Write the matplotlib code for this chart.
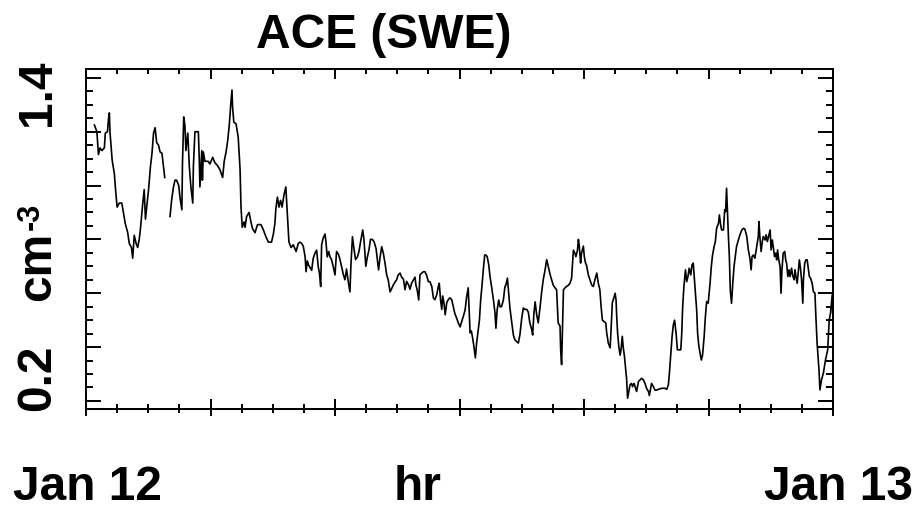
import matplotlib
matplotlib.use("Agg")
import matplotlib.pyplot as plt
from matplotlib.ticker import MultipleLocator, NullFormatter

plt.rcParams["font.family"] = ["Liberation Sans", "DejaVu Sans"]
plt.rcParams["font.weight"] = "bold"

# hours after 00 UT Jan 12, proton density (cm^-3); nan marks a data gap
hours = [
    0.27, 0.35, 0.40, 0.45, 0.51, 0.59, 0.62, 0.69, 0.72, 0.75, 0.77, 0.84, 0.91, 0.96, 1.00,
    1.07, 1.15, 1.20, 1.26, 1.34, 1.39, 1.46, 1.50, 1.55, 1.61, 1.66, 1.71, 1.75, 1.82, 1.87,
    1.91, 1.96, 2.01, 2.07, 2.12, 2.17, 2.22, 2.27, 2.33, 2.38, 2.44, 2.49, 2.53,
    2.61,
    2.70, 2.75, 2.81, 2.86, 2.91, 2.98, 3.02, 3.08, 3.10, 3.14, 3.18, 3.21, 3.27, 3.32, 3.37,
    3.43, 3.45, 3.50, 3.61, 3.64, 3.66, 3.72, 3.74, 3.77, 3.82, 3.93, 3.98, 4.07, 4.14, 4.22,
    4.30, 4.39, 4.44, 4.50, 4.55, 4.60, 4.65, 4.69, 4.71, 4.75, 4.82, 4.89, 4.95, 4.98, 5.02,
    5.08, 5.11, 5.16, 5.24, 5.29, 5.35, 5.43, 5.51, 5.62, 5.70, 5.78, 5.86, 5.96, 6.02, 6.07,
    6.10, 6.15, 6.20, 6.25, 6.30, 6.36, 6.42, 6.47, 6.52, 6.59, 6.66, 6.75, 6.82, 6.87,
    6.93, 6.98, 7.04, 7.07, 7.11, 7.15, 7.20, 7.25, 7.30, 7.36, 7.41, 7.46, 7.50, 7.54, 7.57,
    7.62, 7.68, 7.71, 7.75, 7.80, 7.84, 7.89, 7.95, 8.00, 8.05, 8.11, 8.16, 8.21, 8.27, 8.32,
    8.37, 8.43, 8.48, 8.51, 8.56, 8.61, 8.66, 8.72, 8.77, 8.82, 8.89, 8.93, 8.99, 9.04, 9.09,
    9.14, 9.20, 9.26, 9.32, 9.36, 9.40, 9.45, 9.50, 9.55, 9.61, 9.66, 9.71, 9.77, 9.82, 9.87,
    9.93, 9.98, 10.03, 10.09,
    10.14, 10.20, 10.25, 10.30, 10.36, 10.41, 10.46, 10.52, 10.57, 10.60, 10.64, 10.69, 10.73,
    10.78, 10.84, 10.89, 10.94, 11.00, 11.05, 11.11, 11.16, 11.21, 11.27, 11.32, 11.35, 11.39,
    11.43, 11.46, 11.50, 11.54, 11.59, 11.64, 11.69, 11.75, 11.80, 11.85, 11.91, 11.96, 12.02,
    12.07, 12.12, 12.18, 12.23, 12.28, 12.31, 12.34, 12.38, 12.42, 12.46, 12.51, 12.55, 12.59,
    12.64, 12.68, 12.72, 12.77, 12.81, 12.85, 12.89, 12.94, 12.98, 13.03, 13.09, 13.14, 13.17,
    13.21, 13.26, 13.30,
    13.35, 13.41, 13.46, 13.49, 13.54, 13.58, 13.62, 13.68, 13.73, 13.78, 13.84, 13.89, 13.94,
    14.00, 14.05, 14.10, 14.16, 14.21, 14.26, 14.32, 14.35, 14.39, 14.43, 14.48, 14.53, 14.59,
    14.64, 14.69, 14.75, 14.80, 14.85, 14.91, 14.96, 15.01, 15.07, 15.12, 15.17, 15.23, 15.25,
    15.28, 15.31, 15.34, 15.39, 15.44, 15.50, 15.55, 15.60, 15.63, 15.66, 15.71, 15.74, 15.79,
    15.82, 15.85, 15.89, 15.92, 15.98, 16.01, 16.05, 16.08, 16.14, 16.19, 16.25, 16.30, 16.35,
    16.41, 16.46, 16.51,
    16.55, 16.59, 16.64, 16.70, 16.73, 16.78, 16.84, 16.87, 16.91, 16.96, 17.00, 17.03, 17.05,
    17.08, 17.12, 17.16, 17.19, 17.23, 17.26, 17.30, 17.34, 17.37, 17.40, 17.45, 17.48, 17.53,
    17.56, 17.61, 17.66, 17.69, 17.75, 17.80, 17.85, 17.91, 17.96, 18.01, 18.07, 18.10, 18.14,
    18.17, 18.23, 18.28, 18.33, 18.39, 18.50, 18.60, 18.66, 18.71, 18.74, 18.78, 18.83, 18.87,
    18.91, 18.96, 19.00, 19.05, 19.11, 19.14, 19.17, 19.21, 19.26, 19.30, 19.34, 19.38, 19.43,
    19.47, 19.51, 19.54, 19.58, 19.62, 19.65, 19.69, 19.73,
    19.77, 19.81, 19.86, 19.90, 19.94, 19.99, 20.05, 20.09, 20.13, 20.18, 20.22, 20.26, 20.32,
    20.35, 20.39, 20.42, 20.48, 20.52, 20.55, 20.58, 20.61, 20.64, 20.67, 20.70, 20.74, 20.78,
    20.82, 20.86, 20.90, 20.96, 21.01, 21.07, 21.12, 21.17, 21.23, 21.28, 21.33, 21.37, 21.40,
    21.44, 21.49, 21.55, 21.60, 21.62, 21.65, 21.69, 21.73, 21.76, 21.82, 21.85, 21.89, 21.93,
    21.98, 22.01, 22.05, 22.08, 22.12, 22.16, 22.19, 22.22, 22.25, 22.30, 22.33, 22.36, 22.40,
    22.45, 22.48, 22.51, 22.55, 22.59, 22.62, 22.67, 22.70, 22.75, 22.78, 22.81, 22.85, 22.89,
    22.92, 22.96, 22.99, 23.03, 23.05, 23.09, 23.13, 23.17, 23.21, 23.24, 23.28, 23.33, 23.37,
    23.42, 23.45, 23.49, 23.55, 23.58, 23.63, 23.69, 23.76, 23.83, 23.85, 23.88, 23.92, 23.96,
    23.98, 23.99,
]
density = [
    1.225, 1.200, 1.115, 1.140, 1.130, 1.140, 1.195, 1.200, 1.245, 1.270, 1.200, 1.095, 1.045, 0.970, 0.920,
    0.935, 0.935, 0.900, 0.860, 0.825, 0.785, 0.770, 0.730, 0.815, 0.785, 0.770, 0.800, 0.840, 0.930, 0.985,
    0.875, 0.930, 0.985, 1.070, 1.120, 1.195, 1.215, 1.160, 1.150, 1.125, 1.120, 1.070, 1.030,
    float("nan"),
    0.885, 0.945, 0.995, 1.020, 1.020, 1.000, 0.955, 0.910, 1.085, 1.255, 1.220, 1.130, 1.195, 1.070, 0.995,
    0.935, 1.070, 1.200, 1.200, 1.095, 0.995, 1.130, 1.020, 1.125, 1.090, 1.090, 1.080, 1.105, 1.085, 1.075,
    1.060, 1.030, 1.090, 1.125, 1.165, 1.220, 1.300, 1.355, 1.290, 1.235, 1.230, 1.180, 1.060, 0.920, 0.845,
    0.865, 0.845, 0.885, 0.900, 0.870, 0.840, 0.825, 0.855, 0.855, 0.835, 0.810, 0.790, 0.790, 0.820, 0.860,
    0.915, 0.957, 0.920, 0.945, 0.920, 0.965, 0.995, 0.895, 0.790, 0.770, 0.780, 0.755, 0.785, 0.790,
    0.785, 0.775, 0.735, 0.680, 0.720, 0.705, 0.695, 0.685, 0.730, 0.750, 0.760, 0.700, 0.675, 0.625, 0.780,
    0.805, 0.820, 0.790, 0.735, 0.755, 0.735, 0.725, 0.695, 0.668, 0.755, 0.745, 0.725, 0.700, 0.668, 0.650,
    0.690, 0.640, 0.605, 0.700, 0.810, 0.765, 0.725, 0.735, 0.755, 0.790, 0.835, 0.800, 0.700, 0.735, 0.760,
    0.800, 0.800, 0.790, 0.765, 0.725, 0.687, 0.735, 0.773, 0.750, 0.710, 0.668, 0.650, 0.605, 0.617, 0.630,
    0.642, 0.650, 0.668, 0.675,
    0.660, 0.652, 0.613, 0.644, 0.632, 0.615, 0.637, 0.650, 0.660, 0.630, 0.613, 0.575, 0.668,
    0.674, 0.680, 0.680, 0.668, 0.643, 0.643, 0.625, 0.583, 0.576, 0.595, 0.625, 0.637, 0.576,
    0.540, 0.590, 0.565, 0.520, 0.565, 0.576, 0.583, 0.576, 0.550, 0.525, 0.507, 0.490, 0.475,
    0.495, 0.513, 0.538, 0.587, 0.620, 0.538, 0.453, 0.460, 0.435, 0.405, 0.360, 0.415, 0.453,
    0.500, 0.575, 0.625, 0.694, 0.742, 0.742, 0.736, 0.705, 0.662, 0.625, 0.575, 0.527, 0.470,
    0.538, 0.575, 0.550,
    0.550, 0.575, 0.625, 0.630, 0.656, 0.600, 0.545, 0.490, 0.445, 0.427, 0.420, 0.415, 0.445,
    0.508, 0.545, 0.540, 0.540, 0.530, 0.490, 0.465, 0.445, 0.525, 0.568, 0.520, 0.490, 0.550,
    0.605, 0.650, 0.687, 0.725, 0.700, 0.670, 0.650, 0.630, 0.620, 0.613, 0.490, 0.478, 0.390,
    0.335, 0.478, 0.613, 0.620, 0.625, 0.630, 0.637, 0.655, 0.705, 0.760, 0.748, 0.736, 0.760,
    0.800, 0.775, 0.712, 0.748, 0.775, 0.736, 0.712, 0.705, 0.668, 0.650, 0.630, 0.625, 0.650,
    0.675, 0.637, 0.613,
    0.550, 0.500, 0.495, 0.490, 0.452, 0.415, 0.397, 0.465, 0.565, 0.583, 0.600, 0.575, 0.515,
    0.452, 0.400, 0.370, 0.390, 0.440, 0.400, 0.365, 0.315, 0.280, 0.210, 0.240, 0.260, 0.265,
    0.253, 0.265, 0.247, 0.235, 0.272, 0.278, 0.284, 0.278, 0.265, 0.247, 0.235, 0.220, 0.247,
    0.265, 0.253, 0.240, 0.240, 0.243, 0.247, 0.247, 0.243, 0.260, 0.297, 0.363, 0.440, 0.482,
    0.500, 0.450, 0.390, 0.390, 0.390, 0.450, 0.550, 0.625, 0.687, 0.643, 0.662, 0.693, 0.668,
    0.705, 0.712, 0.662, 0.600, 0.538, 0.452, 0.403, 0.378,
    0.352, 0.371, 0.439, 0.513, 0.569, 0.563, 0.637, 0.699, 0.742, 0.773, 0.792, 0.841, 0.860,
    0.891, 0.854, 0.835, 0.835, 0.910, 0.903, 0.990, 0.897, 0.811, 0.736, 0.612, 0.563, 0.637,
    0.699, 0.736, 0.773, 0.798, 0.817, 0.835, 0.841, 0.838, 0.811, 0.761, 0.730, 0.687, 0.736,
    0.742, 0.730, 0.773, 0.811, 0.866, 0.811, 0.755, 0.792, 0.811, 0.798, 0.817, 0.792, 0.811,
    0.835, 0.761, 0.798, 0.773, 0.736, 0.749, 0.724, 0.761, 0.730, 0.699, 0.600, 0.687, 0.749,
    0.755, 0.724, 0.711, 0.662, 0.687, 0.662, 0.693, 0.668, 0.650, 0.687, 0.662, 0.637, 0.687,
    0.724, 0.687, 0.650, 0.563, 0.650, 0.711, 0.724, 0.724, 0.687, 0.662, 0.656, 0.637, 0.606,
    0.600, 0.513, 0.414, 0.315, 0.241, 0.278, 0.303, 0.353, 0.390, 0.439, 0.501, 0.526, 0.575,
    0.600, 0.526,
]

title = "ACE (SWE)"
y_tick_values = [1.4, 0.2]
y_tick_text = ["1.4", "0.2"]
y_unit = "cm"
y_unit_exp = "-3"
x_labels = ["Jan 12", "hr", "Jan 13"]

W, H = 923, 512
fig = plt.figure(figsize=(W / 100, H / 100), dpi=100)
ax = fig.add_axes([86 / W, 1 - 409 / H, 747 / W, 340 / H])

ax.plot(hours, density, color="black", lw=1.2)
ax.set_xlim(0, 24)
ax.set_ylim(0.170, 1.433)

ax.xaxis.set_major_locator(MultipleLocator(4))
ax.xaxis.set_minor_locator(MultipleLocator(1))
ax.yaxis.set_major_locator(MultipleLocator(0.2))
ax.yaxis.set_minor_locator(MultipleLocator(0.05))
ax.tick_params(labelleft=False, labelbottom=False)
ax.tick_params(axis="x", which="both", direction="in", top=True, bottom=True, width=1.4)
ax.tick_params(axis="x", which="major", length=7.2)
ax.tick_params(axis="x", which="minor", length=3.6)
ax.tick_params(axis="y", which="both", direction="in", left=True, right=True, width=1.4)
ax.tick_params(axis="y", which="major", length=10.8)
ax.tick_params(axis="y", which="minor", length=5.0)
for s in ax.spines.values():
    s.set_linewidth(1.4)

# outward part of the bottom ticks
sec = ax.secondary_xaxis("bottom")
sec.xaxis.set_major_locator(MultipleLocator(4))
sec.xaxis.set_minor_locator(MultipleLocator(1))
sec.xaxis.set_major_formatter(NullFormatter())
sec.tick_params(axis="x", which="both", direction="out", width=1.4)
sec.tick_params(axis="x", which="major", length=5.0)
sec.tick_params(axis="x", which="minor", length=2.9)
sec.spines["bottom"].set_linewidth(1.4)

fs = 34.5
fig.text(384 / W, 1 - 48 / H, title, ha="center", va="baseline", fontsize=fs, fontweight="bold")

label_y = [1 - 93 / H, 1 - 378 / H]
for v, t, yy in zip(y_tick_values, y_tick_text, label_y):
    fig.text(50 / W, yy, t, rotation=90, rotation_mode="anchor", ha="center", va="baseline",
             fontsize=fs, fontweight="bold")
fig.text(50 / W, 1 - 266 / H, y_unit, rotation=90, rotation_mode="anchor", ha="center",
         va="baseline", fontsize=fs, fontweight="bold")
fig.text(39 / W, 1 - 216 / H, y_unit_exp, rotation=90, rotation_mode="anchor", ha="center",
         va="baseline", fontsize=22, fontweight="bold")

for t, xx in zip(x_labels, [87, 418, 839]):
    fig.text(xx / W, 1 - 500 / H, t, ha="center", va="baseline", fontsize=fs, fontweight="bold")

fig.savefig("out.png", dpi=100)
